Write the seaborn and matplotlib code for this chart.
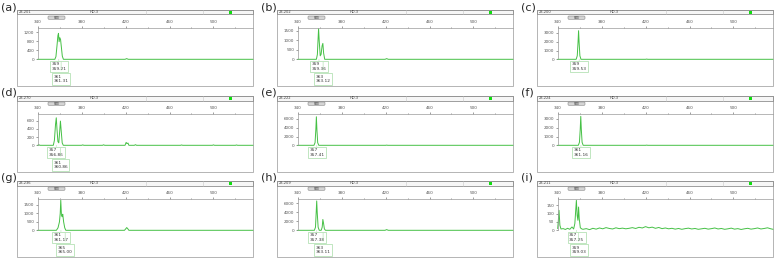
import matplotlib
matplotlib.use("Agg")
import matplotlib.pyplot as plt
from matplotlib.patches import Rectangle, FancyBboxPatch
import seaborn as sns

sns.set_theme(style="white")
plt.rcParams['font.family'] = ['DejaVu Sans']

W, H = 778, 258

# traces (fragment size in bp, signal in RFU)
a_size = [340, 355.6, 356.6, 357.6, 358.4, 358.9, 359.5, 360.1, 360.8, 361.5, 362.4, 363.4, 419.5, 421, 422.5, 536]
a_rfu = [0, 0, 120, 620, 1050, 1150, 780, 960, 880, 560, 140, 0, 0, 30, 0, 0]

b_size = [340, 357.0, 357.9, 358.5, 359.0, 359.6, 360.5, 361.3, 362.2, 362.9, 363.6, 364.6, 419.5, 421, 422.5, 536]
b_rfu = [0, 0, 250, 1000, 1600, 950, 180, 260, 700, 830, 320, 0, 0, 35, 0, 0]

c_size = [340, 356.8, 357.8, 358.5, 359.0, 359.5, 360.2, 361.2, 420, 421, 422, 536]
c_rfu = [0, 0, 400, 1900, 3260, 1900, 400, 0, 0, 25, 0, 0]

d_size = [340, 341, 342, 354.2, 355.2, 356.2, 356.9, 357.6, 358.4, 359.2, 360.0, 360.7, 361.4, 362.3, 363.3,
          380, 381, 382, 399, 400, 401, 419.5, 420.5, 421.3, 422.2, 423, 428, 429, 430,
          470, 471, 472, 499, 500, 501, 520, 521, 522, 536]
d_rfu = [0, 15, 0, 0, 120, 500, 670, 380, 90, 60, 330, 590, 350, 60, 0,
         0, 10, 0, 0, 12, 0, 0, 70, 40, 55, 0, 0, 15, 0,
         0, 8, 0, 0, 10, 0, 0, 8, 0, 0]

e_size = [340, 354.8, 355.8, 356.5, 357.0, 357.5, 358.2, 359.2, 420, 421, 422, 536]
e_rfu = [0, 0, 600, 3500, 6500, 3500, 600, 0, 0, 40, 0, 0]

f_size = [340, 358.8, 359.8, 360.5, 361.0, 361.5, 362.2, 363.2, 420, 421, 422, 536]
f_rfu = [0, 0, 350, 1800, 3300, 1800, 350, 0, 0, 20, 0, 0]

g_size = [340, 357.0, 358.5, 359.8, 360.5, 361.0, 361.6, 362.2, 362.8, 363.6, 364.6, 365.6,
          419.0, 420.2, 421.0, 421.8, 423.0, 536]
g_rfu = [0, 0, 150, 500, 1000, 1780, 900, 800, 950, 500, 150, 0, 0, 90, 160, 110, 0, 0]

h_size = [340, 355.2, 356.2, 356.8, 357.3, 357.8, 358.6, 359.6, 361.4, 362.3, 362.9, 363.5, 364.3, 365.3,
          419.5, 421, 422.5, 536]
h_rfu = [0, 0, 700, 3800, 6500, 3800, 700, 0, 0, 700, 2400, 1600, 300, 0, 0, 150, 0, 0]

i_size = [340, 340.6, 341.2, 342.0, 343.0, 345, 347, 349, 351, 353, 354.5, 355.6, 356.4, 357.0, 357.7,
          358.4, 359.0, 359.6, 360.6, 362,
          363, 366, 369, 372, 375, 378, 381, 384, 387, 390, 393, 396, 399, 402, 405, 408, 411, 414, 417, 420,
          423, 426, 429, 432, 435, 438, 441, 444, 447, 450, 453, 456, 459, 462, 465, 468, 471, 474, 477, 480,
          483, 486, 489, 492, 495, 498, 501, 504, 507, 510, 513, 516, 519, 522, 525, 528, 531, 534, 536]
i_rfu = [10, 60, 120, 30, 8, 10, 5, 12, 6, 20, 8, 40, 120, 180, 90, 60, 140, 70, 15, 8,
         6, 10, 4, 12, 7, 14, 9, 16, 11, 8, 15, 10, 13, 9, 12, 16, 11, 18, 14, 22,
         15, 19, 12, 17, 10, 14, 9, 12, 7, 11, 6, 10, 13, 8, 11, 6, 9, 12, 7, 10,
         14, 8, 11, 6, 9, 13, 7, 10, 5, 9, 12, 7, 10, 14, 8, 11, 15, 9, 6]

letters = ["a", "b", "c", "d", "e", "f", "g", "h", "i"]
sample_ids = ["23-201", "23-202", "23-200", "23-270", "23-222", "23-224", "23-236", "23-209", "23-211"]
marker_name = "HD-3"
y_tops = [1400, 1650, 3600, 770, 7200, 3600, 1870, 7000, 190]
y_ticks = [[0, 400, 800, 1200], [0, 500, 1000, 1500], [0, 1000, 2000, 3000],
           [0, 200, 400, 600], [0, 2000, 4000, 6000], [0, 1000, 2000, 3000],
           [0, 500, 1000, 1500], [0, 2000, 4000, 6000], [0, 50, 100, 150]]
allele_calls = [
    [("359", "359.21"), ("361", "361.31")],
    [("359", "359.36"), ("363", "363.12")],
    [("359", "359.53")],
    [("357", "356.86"), ("361", "360.86")],
    [("357", "357.41")],
    [("361", "361.16")],
    [("361", "361.17"), ("365", "365.00")],
    [("357", "357.38"), ("363", "363.11")],
    [("357", "357.25"), ("359", "359.03")],
]
x_major = [340, 380, 420, 460, 500]
x_minor = [360, 400, 440, 480, 520]

sizes = [a_size, b_size, c_size, d_size, e_size, f_size, g_size, h_size, i_size]
rfus = [a_rfu, b_rfu, c_rfu, d_rfu, e_rfu, f_rfu, g_rfu, h_rfu, i_rfu]

fig = plt.figure(figsize=(W / 100, H / 100), dpi=100)


def px_axes(x, y, w, h):
    return fig.add_axes([x / W, 1 - (y + h) / H, w / W, h / H])


col_x = [17, 277, 537]
row_y = [10, 96, 181]
trace_color = "#45c045"
call_color = "#a6dca6"

for k in range(9):
    L = col_x[k % 3]
    T = row_y[k // 3]

    # panel frame, header bar and SIZE button (pixel coordinates)
    frame = px_axes(L, T, 236, 76)
    frame.set_xlim(0, 236)
    frame.set_ylim(76, 0)
    frame.axis("off")
    frame.add_patch(Rectangle((0, 0), 236, 76, fill=False, ec="#a8a8a8", lw=0.6, clip_on=False))
    frame.add_patch(Rectangle((0, 0), 236, 4.5, fc="#f6f6f6", ec="#7a7a7a", lw=0.5, clip_on=False))
    for xv in (129, 186):
        frame.plot([xv, xv], [0, 4.5], color="#c8c8c8", lw=0.4)
    frame.text(2, 2.4, sample_ids[k], fontsize=2.6, va="center", color="#444444")
    frame.text(73, 2.4, marker_name, fontsize=2.6, va="center", color="#444444")
    frame.add_patch(Rectangle((212, 1), 2.6, 2.6, fc="#11dd11", ec="none"))
    frame.add_patch(FancyBboxPatch((31, 6), 17, 3.3, boxstyle="round,pad=0,rounding_size=1",
                                   fc="#d4d4d4", ec="#888888", lw=0.4))
    frame.text(39.5, 7.7, "SIZE", fontsize=2.0, ha="center", va="center", color="#333333")

    fig.text((L - 16) / W, 1 - (T - 8) / H, f"({letters[k]})", fontsize=8, va="top", ha="left")

    # electropherogram
    ax = px_axes(L + 20.7, T + 17.7, 215.3, 31.6)
    ax.set_facecolor("none")
    sns.lineplot(x=sizes[k], y=rfus[k], ax=ax, color=trace_color, lw=0.7, estimator=None, sort=False)
    for ln in ax.lines:
        ln.set_clip_on(False)
    ax.set_xlim(340, 536)
    ax.set_ylim(0, y_tops[k])
    ax.xaxis.tick_top()
    ax.set_xticks(x_major)
    ax.set_xticks(x_minor, minor=True)
    ax.set_yticks(y_ticks[k])
    ax.set_xlabel("")
    ax.set_ylabel("")
    for side in ("bottom", "right"):
        ax.spines[side].set_visible(False)
    for side in ("top", "left"):
        ax.spines[side].set_color("#9a9a9a")
        ax.spines[side].set_linewidth(0.5)
    ax.tick_params(axis="both", which="both", labelsize=3, length=1.5, width=0.4, pad=1,
                   colors="#555555", direction="out")
    ax.tick_params(axis="x", which="minor", length=1.0, top=True)
    ax.tick_params(axis="x", which="major", top=True)
    ax.tick_params(axis="y", left=True)

    # allele call boxes below the baseline
    for j, (allele, bp) in enumerate(allele_calls[k]):
        ax.annotate(f"{allele}\n{bp}", xy=(float(bp), 0), xycoords="data",
                    xytext=(0, -5.3 - 8.9 * j), textcoords="offset points",
                    ha="center", va="center", multialignment="left", fontsize=3.1, color="#333333",
                    bbox=dict(boxstyle="square,pad=0.35", fc="white", ec=call_color, lw=0.5),
                    arrowprops=dict(arrowstyle="-", color=call_color, lw=0.4),
                    annotation_clip=False)

fig.savefig("out.png", dpi=100)
